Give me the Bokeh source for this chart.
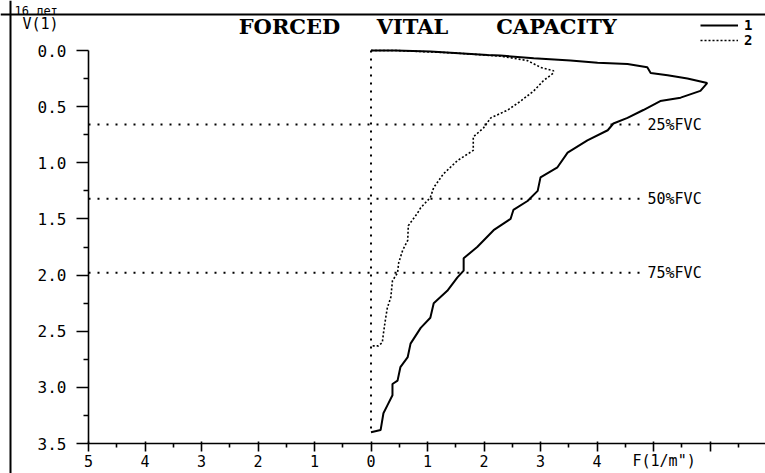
from bokeh.plotting import figure
from bokeh.models import Range1d, FixedTicker, Span, Label, Legend, LegendItem, NumeralTickFormatter
from bokeh.embed import file_html
from bokeh.resources import INLINE
from bokeh.core.properties import value

# ---- data ----
# curve 1 (solid): flow vs volume
curve1_flow = [0.0, 0.43, 1.05, 1.41, 2.06, 2.29, 2.88, 3.53, 4.01, 4.54, 4.89, 4.95, 5.25, 5.60, 5.95,
               5.83, 5.48, 5.12, 4.82, 4.54, 4.29, 4.19, 3.83, 3.48, 3.30, 3.00, 2.95, 2.77, 2.52, 2.47,
               2.17, 1.88, 1.64, 1.64, 1.53, 1.35, 1.11, 1.05, 0.88, 0.70, 0.65, 0.52, 0.47, 0.38, 0.38,
               0.29, 0.22, 0.17, 0.0]
curve1_vol = [0.0, 0.0, 0.01, 0.02, 0.04, 0.045, 0.07, 0.09, 0.11, 0.12, 0.15, 0.20, 0.22, 0.25, 0.29,
              0.36, 0.42, 0.45, 0.53, 0.60, 0.65, 0.71, 0.80, 0.91, 1.04, 1.13, 1.25, 1.34, 1.42, 1.50,
              1.60, 1.75, 1.85, 1.96, 2.02, 2.14, 2.25, 2.38, 2.47, 2.61, 2.73, 2.82, 2.94, 2.97, 3.07,
              3.16, 3.23, 3.38, 3.40]
# curve 2 (dotted)
curve2_flow = [0.0, 0.43, 1.41, 2.29, 2.77, 3.00, 3.23, 3.23, 3.05, 2.88, 2.65, 2.42, 2.12, 1.99, 1.81,
               1.81, 1.53, 1.28, 1.11, 1.05, 0.88, 0.82, 0.66, 0.65, 0.56, 0.49, 0.47, 0.38, 0.35, 0.29,
               0.26, 0.22, 0.20, 0.13, 0.0]
curve2_vol = [0.0, 0.0, 0.02, 0.05, 0.09, 0.15, 0.18, 0.20, 0.27, 0.36, 0.45, 0.53, 0.60, 0.69, 0.77,
              0.89, 0.98, 1.10, 1.22, 1.31, 1.40, 1.45, 1.56, 1.69, 1.78, 1.89, 1.98, 2.05, 2.20, 2.29,
              2.38, 2.52, 2.60, 2.63, 2.63]
zero_line_end = 3.40

fvc_levels = [0.66, 1.32, 1.98]
fvc_labels = ["25%FVC", "50%FVC", "75%FVC"]

x_ticks = [-5, -4, -3, -2, -1, 0, 1, 2, 3, 4, 5, 6]
x_minor = [-4.5, -3.5, -2.5, -1.5, -0.5, 0.5, 1.5, 2.5, 3.5, 4.5, 5.5, 6.5]
x_tick_labels = ["5", "4", "3", "2", "1", "0", "1", "2", "3", "4", "", ""]
y_ticks = [0.0, 0.5, 1.0, 1.5, 2.0, 2.5, 3.0, 3.5]
y_minor = [0.25, 0.75, 1.25, 1.75, 2.25, 2.75, 3.25]

title_words = ["FORCED", "VITAL", "CAPACITY"]
legend_labels = ["1", "2"]

# ---- geometry (canvas pixels) ----
PX_X = 56.5    # px per flow unit
PX_Y = 112.3   # px per litre
X0_PX = 370.5  # canvas x of flow 0
Y0_PX = 50.0   # canvas y of volume 0

def dx(px):
    return (px - X0_PX) / PX_X

def dy(py):
    return (py - Y0_PX) / PX_Y

W, H = 765, 473
p = figure(width=W, height=H, output_backend="svg", toolbar_location=None,
           x_range=Range1d(dx(0), dx(W)),
           y_range=Range1d(dy(H), dy(0)),
           min_border_left=0, min_border_top=0, min_border_right=0, min_border_bottom=0)
p.grid.visible = False
p.outline_line_color = None
p.background_fill_color = "white"
p.border_fill_color = "white"

MONO = "DejaVu Sans Mono"

# x axis
p.xaxis.fixed_location = 3.5
p.xaxis.bounds = (-5, dx(W))
p.xaxis.ticker = FixedTicker(ticks=x_ticks, minor_ticks=x_minor)
p.xaxis.major_label_overrides = {t: l for t, l in zip(x_ticks, x_tick_labels)}
p.xaxis.axis_line_width = 1.6
p.xaxis.axis_line_color = "black"
p.xaxis.major_tick_line_color = "black"
p.xaxis.minor_tick_line_color = "black"
p.xaxis.major_tick_line_width = 1.6
p.xaxis.minor_tick_line_width = 1.6
p.xaxis.major_tick_in = 2
p.xaxis.major_tick_out = 8
p.xaxis.minor_tick_in = 0
p.xaxis.minor_tick_out = 4
p.xaxis.major_label_standoff = 3
p.xaxis.major_label_text_font = MONO
p.xaxis.major_label_text_font_size = "15px"
p.xaxis.major_label_text_color = "black"

# y axis
p.yaxis.fixed_location = -5
p.yaxis.bounds = (0, 3.5)
p.yaxis.ticker = FixedTicker(ticks=y_ticks, minor_ticks=y_minor)
p.yaxis.formatter = NumeralTickFormatter(format="0.0")
p.yaxis.axis_line_width = 1.6
p.yaxis.axis_line_color = "black"
p.yaxis.major_tick_line_color = "black"
p.yaxis.minor_tick_line_color = "black"
p.yaxis.major_tick_line_width = 1.6
p.yaxis.minor_tick_line_width = 1.6
p.yaxis.major_tick_in = 0
p.yaxis.major_tick_out = 12
p.yaxis.minor_tick_in = 0
p.yaxis.minor_tick_out = 5
p.yaxis.major_label_standoff = 10
p.yaxis.major_label_text_font = MONO
p.yaxis.major_label_text_font_size = "16px"
p.yaxis.major_label_text_color = "black"

# outer frame lines (left and top)
p.add_layout(Span(location=dx(10), dimension="height", line_color="black", line_width=2))
p.add_layout(Span(location=dy(14), dimension="width", line_color="black", line_width=2))

# FVC reference lines
p.segment(x0=[-5] * len(fvc_levels), y0=fvc_levels, x1=[dx(642)] * len(fvc_levels), y1=fvc_levels,
          line_color="black", line_width=2, line_dash="2 7")
p.text(x=[dx(647)] * len(fvc_levels), y=fvc_levels, text=fvc_labels, text_baseline="middle",
       text_align="left", text_font=value(MONO), text_font_size="15px", text_color="black")

# zero-flow dotted line
p.segment(x0=[0], y0=[0], x1=[0], y1=[zero_line_end], line_color="black", line_width=2, line_dash="2 6")

# curves
r1 = p.line(curve1_flow, curve1_vol, line_color="black", line_width=2)
r2 = p.line(curve2_flow, curve2_vol, line_color="black", line_width=1.6, line_dash="2 2")

# legend: one single-item legend per curve, stacked tightly as in the original
for lab, rend, cy in zip(legend_labels, [r1, r2], [26, 41]):
    lg = Legend(items=[LegendItem(label=lab, renderers=[rend])],
                location=(700, H - (cy + 7)), glyph_width=38, glyph_height=14, label_height=14,
                label_standoff=6, spacing=0, padding=0, margin=0,
                border_line_color=None, background_fill_alpha=0,
                label_text_font=MONO, label_text_font_style="bold", label_text_font_size="14px",
                label_text_color="black")
    p.add_layout(lg)

# title words
title_centers = [289, 412, 556]
for word, cx in zip(title_words, title_centers):
    p.add_layout(Label(x=dx(cx), y=dy(26), text=word, text_align="center", text_baseline="middle",
                       text_font="DejaVu Serif", text_font_style="bold", text_font_size="21px",
                       text_color="black"))

# axis captions
p.add_layout(Label(x=dx(22), y=dy(23), text="V(1)", text_align="left", text_baseline="middle",
                   text_font=MONO, text_font_size="15px", text_color="black"))
p.add_layout(Label(x=dx(632), y=dy(460), text='F(1/m")', text_align="left", text_baseline="middle",
                   text_font=MONO, text_font_size="15px", text_color="black"))
# header text at the very top, above the frame line
p.add_layout(Label(x=dx(14), y=dy(10), text="16 лет", text_align="left", text_baseline="alphabetic",
                   text_font=MONO, text_font_size="12px", text_color="black"))

open("out.html", "w").write(file_html(p, INLINE))
